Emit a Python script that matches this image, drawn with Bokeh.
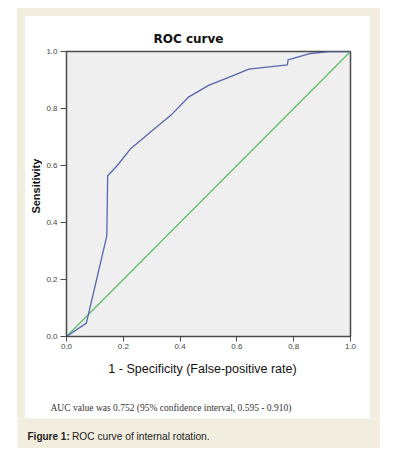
import math
from bokeh.plotting import figure
from bokeh.models import Range1d, FixedTicker, PrintfTickFormatter, Label, Spacer
from bokeh.layouts import row, column
from bokeh.embed import file_html
from bokeh.resources import INLINE

# ---- data ----
fpr = [0.0, 0.070, 0.142, 0.145, 0.179, 0.226, 0.297, 0.367, 0.431, 0.502,
       0.578, 0.642, 0.778, 0.780, 0.859, 0.925, 1.0]
tpr = [0.0, 0.047, 0.353, 0.564, 0.600, 0.659, 0.718, 0.776, 0.841, 0.882,
       0.912, 0.938, 0.953, 0.971, 0.993, 1.0, 1.0]
ref_x = [0.0, 1.0]
ref_y = [0.0, 1.0]
ticks = [0.0, 0.2, 0.4, 0.6, 0.8, 1.0]

title_text = "ROC curve"
x_title = "1 - Specificity (False-positive rate)"
y_title = "Sensitivity"
note_text = "AUC value was 0.752 (95% confidence interval, 0.595 - 0.910)"
cap_bold = "Figure 1:"
cap_text = "ROC curve of internal rotation."

BEIGE = "#f2eedf"
DARK = "#4a4a4a"
SANS = "Liberation Sans"


def strip(w, h, fill):
    f = figure(width=w, height=h, x_range=Range1d(0, w), y_range=Range1d(0, h),
               output_backend="svg", toolbar_location=None, min_border=0,
               x_axis_location=None, y_axis_location=None)
    f.background_fill_color = fill
    f.border_fill_color = fill
    f.outline_line_color = None
    f.xgrid.visible = False
    f.ygrid.visible = False
    return f


# ---- main plot ----
P_W, P_H = 328, 307
p = figure(width=P_W, height=P_H, x_range=Range1d(0, 1), y_range=Range1d(0, 1),
           output_backend="svg", toolbar_location=None,
           min_border_left=24, min_border_right=20, min_border_top=6, min_border_bottom=16)
p.background_fill_color = "#efefef"
p.border_fill_color = "white"
p.outline_line_color = DARK
p.outline_line_width = 1.5
p.xgrid.visible = False
p.ygrid.visible = False

for ax in (p.xaxis[0], p.yaxis[0]):
    ax.ticker = FixedTicker(ticks=ticks)
    ax.formatter = PrintfTickFormatter(format="%.1f")
    ax.minor_tick_line_color = None
    ax.major_tick_in = 0
    ax.major_tick_line_color = DARK
    ax.axis_line_color = DARK
    ax.major_label_text_font = SANS
    ax.major_label_text_font_size = "8px"
    ax.major_label_text_color = "#444444"
p.xaxis[0].major_tick_out = 5
p.xaxis[0].major_label_standoff = 2
p.yaxis[0].major_tick_out = 6
p.yaxis[0].major_label_standoff = 3

p.line(ref_x, ref_y, line_color="#5cbd62", line_width=1.2)
p.line(fpr, tpr, line_color="#5566ad", line_width=1.3)

# ---- title strip ----
t = strip(345, 29, "white")
t.add_layout(Label(x=163, y=7, text=title_text, text_align="center", text_baseline="middle",
                   text_font="DejaVu Sans", text_font_style="bold",
                   text_font_size="12px", text_color="#111111"))

# ---- y-axis title strip ----
yl = strip(17, P_H, "white")
yl.add_layout(Label(x=10, y=162, text=y_title, angle=math.pi / 2, text_align="center",
                    text_baseline="middle", text_font=SANS, text_font_style="bold",
                    text_font_size="11px", text_color="#111111"))

# ---- x-axis title and note strip ----
b = strip(345, 66, "white")
b.add_layout(Label(x=177, y=50, text=x_title, text_align="center", text_baseline="middle",
                   text_font=SANS, text_font_size="12.5px", text_color="#111111"))
b.add_layout(Label(x=25, y=11, text=note_text, text_align="left", text_baseline="middle",
                   text_font="Liberation Serif", text_font_size="9.5px", text_color="#333333"))

# ---- caption strip ----
cap = strip(363, 30, BEIGE)
cap.add_layout(Label(x=10, y=12, text=cap_bold, text_align="left", text_baseline="middle",
                     text_font=SANS, text_font_style="bold", text_font_size="10px",
                     text_color="#222222"))
cap.add_layout(Label(x=54.5, y=12, text=cap_text, text_align="left", text_baseline="middle",
                     text_font=SANS, text_font_size="10.2px", text_color="#222222"))

bg = {"background-color": BEIGE}
panel = column(t, row(yl, p), b)
block = column(Spacer(width=363, height=8, styles=bg),
               row(Spacer(width=8, height=402, styles=bg), panel,
                   Spacer(width=10, height=402, styles=bg)),
               cap)
page = column(Spacer(width=380, height=8), row(Spacer(width=17, height=440), block))

open("out.html", "w").write(file_html(page, INLINE))
